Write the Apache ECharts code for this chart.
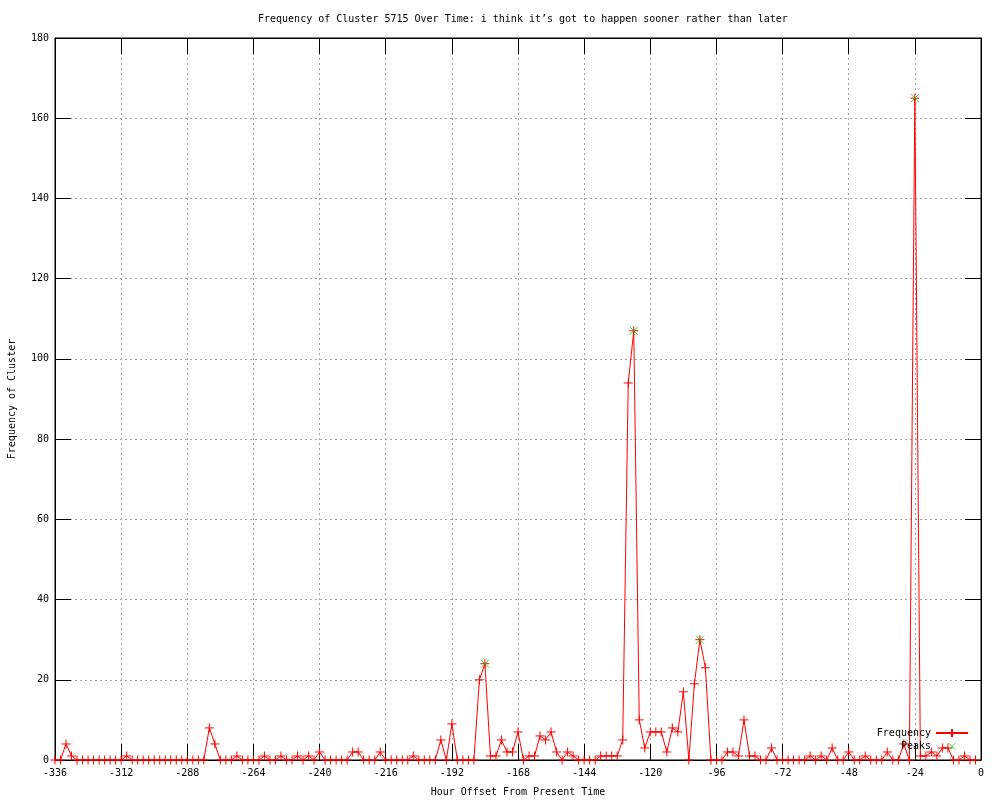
<!DOCTYPE html>
<html><head><meta charset="utf-8">
<script src="https://cdn.jsdelivr.net/npm/echarts@6/dist/echarts.min.js"></script>
<style>html,body{margin:0;padding:0;background:#fff}#c{width:1000px;height:800px}</style>
</head><body><div id="c"></div>
<script>
// Hour offsets (x) of each sample
const hours = [
 -336,-334,-332,-330,-328,-326,-324,-322,-320,-318,-316,-314,-312,-310,-308,-306,-304,-302,-300,-298,
 -296,-294,-292,-290,-288,-286,-284,-282,-280,-278,-276,-274,-272,-270,-268,-266,-264,-262,-260,-258,
 -256,-254,-252,-250,-248,-246,-244,-242,-240,-238,-236,-234,-232,-230,-228,-226,-224,-222,-220,-218,
 -216,-214,-212,-210,-208,-206,-204,-202,-200,-198,-196,-194,-192,-190,-188,-186,-184,-182,-180,-178,
 -176,-174,-172,-170,-168,-166,-164,-162,-160,-158,-156,-154,-152,-150,-148,-146,-144,-142,-140,-138,
 -136,-134,-132,-130,-128,-126,-124,-122,-120,-118,-116,-114,-112,-110,-108,-106,-104,-102,-100,-98,
 -96,-94,-92,-90,-88,-86,-84,-82,-80,-78,-76,-74,-72,-70,-68,-66,-64,-62,-60,-58,
 -56,-54,-52,-50,-48,-46,-44,-42,-40,-38,-36,-34,-32,-30,-28,-26,-24,-22,-20,-18,
 -16,-14,-12,-10,-8,-6,-4,-2
];
// Frequency of cluster at each hour offset
const frequency = [
 0,0,4,1,0,0,0,0,0,0,0,0,0,1,0,0,0,0,0,0,
 0,0,0,0,0,0,0,0,8,4,0,0,0,1,0,0,0,0,1,0,
 0,1,0,0,1,0,1,0,2,0,0,0,0,0,2,2,0,0,0,2,
 0,0,0,0,0,1,0,0,0,0,5,0,9,0,0,0,0,20,24,1,
 1,5,2,2,7,0,1,1,6,5,7,2,0,2,1,0,0,0,0,1,
 1,1,1,5,94,107,10,3,7,7,7,2,8,7,17,0,19,30,23,0,
 0,0,2,2,1,10,1,1,0,0,3,0,0,0,0,0,0,1,0,1,
 0,3,0,0,2,0,0,1,0,0,0,2,0,0,4,0,165,1,1,2,
 1,3,3,0,0,1,0,0
];
// Detected peaks
const peakHours = [-180, -126, -102, -24];
const peakValues = [24, 107, 30, 165];

const FONT = 'DejaVu Sans Mono';
const PLUS = 'path://M0,4L8,4M4,0L4,8';
const CROSS = 'path://M0,0L8,8M8,0L0,8';
const CROSS_WIDE = 'path://M0,-1M32,11M12,1L20,9M20,1L12,9';

const freqData = hours.map((h, i) => [h, frequency[i]]);
const peakData = peakHours.map((h, i) => [h, peakValues[i]]);

const grid = {left: 55, top: 38, width: 926, height: 722, show: true, borderColor: '#000', borderWidth: 1,
  backgroundColor: 'transparent', outerBoundsMode: 'none', containLabel: false};
const lbl = {color: '#000', fontFamily: FONT, fontSize: 10};
const split = {show: true, lineStyle: {color: '#a0a0a0', type: [2, 3], width: 1}};
const tick = {show: true, inside: true, length: 16, lineStyle: {color: '#000', width: 1}};
const aline = {show: true, onZero: false, lineStyle: {color: '#000'}};

const chart = echarts.init(document.getElementById('c'), null, {renderer: 'canvas'});
chart.setOption({
  animation: false,
  backgroundColor: '#fff',
  title: {
    text: 'Frequency of Cluster 5715 Over Time: i think it\u2019s got to happen sooner rather than later',
    left: 253, top: 9,
    textStyle: {fontFamily: FONT, fontSize: 10, fontWeight: 'normal', color: '#000'}
  },
  grid: grid,
  legend: {
    orient: 'vertical', align: 'right', right: 31, bottom: 48,
    itemWidth: 32, itemHeight: 10, itemGap: 3, padding: 0,
    textStyle: {fontFamily: FONT, fontSize: 10, color: '#000'},
    data: [
      {name: 'Frequency'},
      {name: 'Peaks', icon: CROSS_WIDE, itemStyle: {color: 'transparent', borderColor: '#00c000', borderWidth: 1}}
    ]
  },
  xAxis: [{
    type: 'value', min: -336, max: 0, interval: 24,
    name: 'Hour Offset From Present Time', nameLocation: 'middle', nameGap: 27,
    nameTextStyle: lbl,
    axisLine: aline,
    axisTick: tick, axisLabel: Object.assign({margin: 8}, lbl), splitLine: split
  }, {
    type: 'value', min: -336, max: 0, interval: 24, position: 'top',
    axisLine: aline,
    axisTick: tick, axisLabel: {show: false}, splitLine: {show: false}
  }],
  yAxis: [{
    type: 'value', min: 0, max: 180, interval: 20,
    name: 'Frequency of Cluster', nameLocation: 'middle', nameGap: 38, nameRotate: 90,
    nameTextStyle: lbl,
    axisLine: aline,
    axisTick: tick, axisLabel: Object.assign({margin: 6}, lbl), splitLine: split
  }, {
    type: 'value', min: 0, max: 180, interval: 20, position: 'right',
    axisLine: aline,
    axisTick: tick, axisLabel: {show: false}, splitLine: {show: false}
  }],
  series: [{
    name: 'Frequency', type: 'line', data: freqData,
    xAxisIndex: 0, yAxisIndex: 0,
    symbol: PLUS, symbolSize: 9, showSymbol: true, showAllSymbol: true,
    lineStyle: {color: '#ff0000', width: 1},
    itemStyle: {color: 'transparent', borderColor: '#ff0000', borderWidth: 1},
    z: 3
  }, {
    name: 'Peaks', type: 'scatter', data: peakData,
    xAxisIndex: 0, yAxisIndex: 0,
    symbol: CROSS, symbolSize: 8,
    itemStyle: {color: 'transparent', borderColor: '#00c000', borderWidth: 1},
    z: 4
  }]
});
</script>
</body></html>
